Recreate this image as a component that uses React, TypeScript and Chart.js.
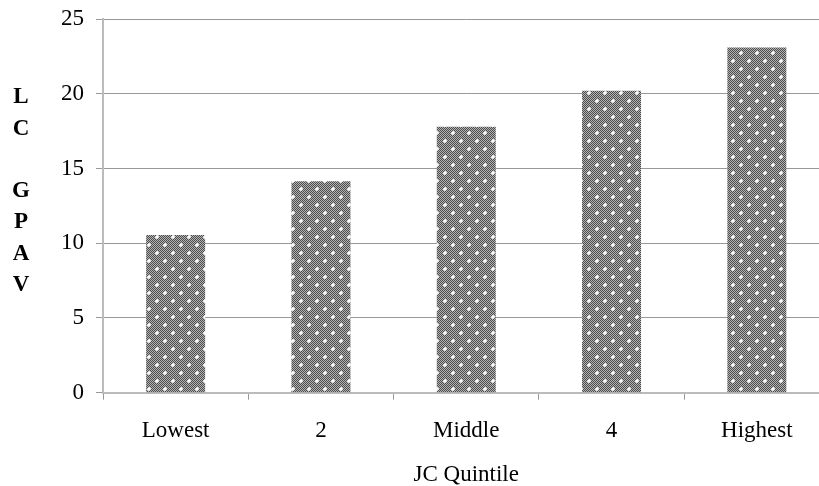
import React, { useEffect, useRef } from "react";
import { Chart, registerables } from "chart.js";

Chart.register(...registerables);

const categories = ["Lowest", "2", "Middle", "4", "Highest"];
const values = [10.55, 14.15, 17.8, 20.2, 23.1];
const yTitleLetters = ["L", "C", "", "G", "P", "A", "V"];
const xTitle = "JC Quintile";
const yMin = 0;
const yMax = 25;
const yStep = 5;

const FONT = "'Liberation Serif', 'Times New Roman', serif";

function makePattern(): CanvasPattern | string {
  const c = document.createElement("canvas");
  c.width = 16;
  c.height = 16;
  const ctx = c.getContext("2d");
  if (!ctx) return "#777";
  const img = ctx.createImageData(16, 16);
  const set = (x: number, y: number, v: number) => {
    x = (x + 16) % 16;
    y = (y + 16) % 16;
    const i = (y * 16 + x) * 4;
    img.data[i] = v;
    img.data[i + 1] = v;
    img.data[i + 2] = v;
    img.data[i + 3] = 255;
  };
  for (let y = 0; y < 16; y++) {
    for (let x = 0; x < 16; x++) {
      set(x, y, (x + y) % 2 === 0 ? 0x4c : 0xb4);
    }
  }
  const dots = [
    [4, 4],
    [12, 12],
  ];
  for (const [cx, cy] of dots) {
    set(cx, cy, 255);
    set(cx + 1, cy, 250);
    set(cx, cy + 1, 250);
    set(cx + 1, cy + 1, 245);
    set(cx - 1, cy, 225);
    set(cx + 2, cy, 225);
    set(cx, cy - 1, 225);
    set(cx, cy + 2, 225);
    set(cx + 1, cy - 1, 225);
    set(cx + 1, cy + 2, 225);
    set(cx - 1, cy + 1, 225);
    set(cx + 2, cy + 1, 225);
  }
  ctx.putImageData(img, 0, 0);
  return ctx.createPattern(c, "repeat") || "#777";
}

const yLetterPlugin = {
  id: "yLetters",
  afterDraw(chart: any) {
    const ctx = chart.ctx;
    ctx.save();
    ctx.font = `bold 23px ${FONT}`;
    ctx.fillStyle = "#000";
    ctx.textAlign = "center";
    ctx.textBaseline = "middle";
    const lh = 31.25;
    const startY = 97.5;
    yTitleLetters.forEach((ch, i) => {
      if (ch) ctx.fillText(ch, 21, startY + i * lh);
    });
    ctx.restore();
  },
};

export default function App() {
  const ref = useRef<HTMLCanvasElement | null>(null);
  useEffect(() => {
    if (!ref.current) return;
    const pattern = makePattern();
    const chart = new Chart(ref.current, {
      type: "bar",
      data: {
        labels: categories,
        datasets: [
          {
            data: values,
            backgroundColor: pattern as any,
            borderWidth: 0,
            categoryPercentage: 1,
            barPercentage: 0.406,
          },
        ],
      },
      options: {
        responsive: false,
        animation: false,
        layout: { padding: { top: 19, right: 10.5, left: 0, bottom: 0 } },
        plugins: {
          legend: { display: false },
          tooltip: { enabled: false },
        },
        scales: {
          x: {
            offset: true,
            grid: {
              display: true,
              drawOnChartArea: false,
              drawTicks: true,
              tickLength: 7,
              color: "#999",
              offset: true,
            },
            border: { color: "#bbb", width: 2 },
            ticks: {
              color: "#000",
              font: { family: FONT, size: 23 },
              padding: 17,
              maxRotation: 0,
            },
            title: {
              display: true,
              text: xTitle,
              color: "#000",
              font: { family: FONT, size: 23 },
              padding: { top: 14, bottom: -3 },
            },
            afterFit(scale: any) {
              scale.height = 486 - 392.7;
              scale.paddingLeft = 0;
              scale.paddingRight = 0;
            },
          },
          y: {
            min: yMin,
            max: yMax,
            grid: {
              color: "#999",
              drawTicks: true,
              tickLength: 7,
            },
            border: { color: "#bbb", width: 2 },
            ticks: {
              stepSize: yStep,
              color: "#000",
              font: { family: FONT, size: 23 },
              padding: 12,
            },
            afterFit(scale: any) {
              scale.width = 103;
              scale.paddingTop = 0;
              scale.paddingBottom = 0;
            },
          },
        },
      },
      plugins: [yLetterPlugin],
    });
    return () => chart.destroy();
  }, []);
  return (
    <div
      style={{
        position: "fixed",
        left: 0,
        top: 0,
        width: 819,
        height: 486,
        overflow: "hidden",
        background: "#fff",
      }}
    >
      <canvas ref={ref} width={840} height={486} style={{ display: "block" }} />
    </div>
  );
}
